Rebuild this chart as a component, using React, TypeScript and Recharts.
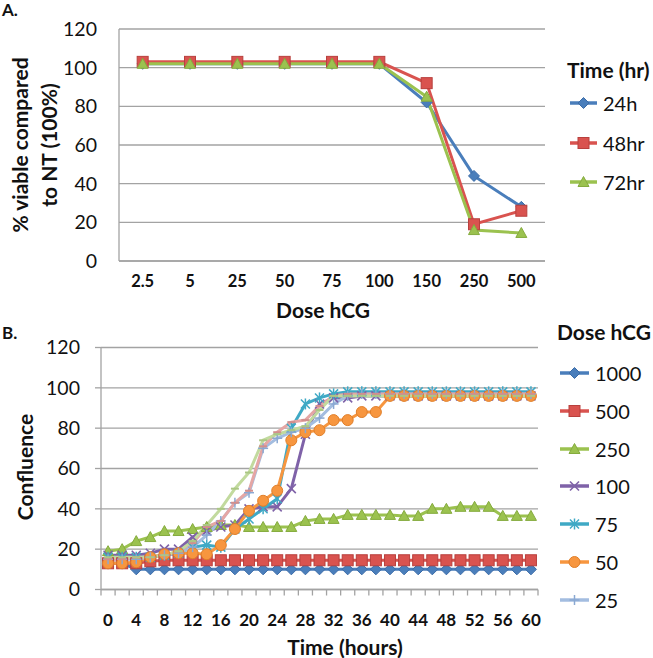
import React from "react";
import { LineChart, Line, XAxis, YAxis, CartesianGrid } from "recharts";

// Panel A: viability by dose
const doses = ["2.5", "5", "25", "50", "75", "100", "150", "250", "500"];
const viable24h = [102, 102, 102, 102, 102, 102, 82, 44, 28];
const viable48h = [103, 103, 103, 103, 103, 103, 92, 19, 26];
const viable72h = [102, 102, 102, 102, 102, 102, 85, 16, 14.5];

// Panel B: confluence over time
const hours = [0, 2, 4, 6, 8, 10, 12, 14, 16, 18, 20, 22, 24, 26, 28, 30, 32, 34, 36, 38, 40, 42, 44, 46, 48, 50, 52, 54, 56, 58, 60];
const conf1000 = [13, 13, 10, 10, 10, 10, 10, 10, 10, 10, 10, 10, 10, 10, 10, 10, 10, 10, 10, 10, 10, 10, 10, 10, 10, 10, 10, 10, 10, 10, 10];
const conf500 = [13, 13, 13, 14, 14.5, 14.5, 14.5, 14.5, 14.5, 14.5, 14.5, 14.5, 14.5, 14.5, 14.5, 14.5, 14.5, 14.5, 14.5, 14.5, 14.5, 14.5, 14.5, 14.5, 14.5, 14.5, 14.5, 14.5, 14.5, 14.5, 14.5];
const conf250 = [19, 20, 24, 26, 29, 29, 30, 31, 32, 32, 31, 31, 31, 31, 34, 35, 35, 37, 37, 37, 37, 36.5, 36.5, 40, 40, 41, 41, 41, 36.5, 36.5, 36.5];
const conf100 = [17, 17, 17, 18, 20, 20, 26, 29, 31, 32, 40, 41, 41, 50, 77, 92, 95, 95, 96, 96, 96, 96, 96, 96, 96, 96, 96, 96, 96, 96, 96];
const conf75 = [16, 16, 16, 16, 17, 18, 21, 22, 21, 30, 35, 40, 45, 80, 92, 95, 97, 98, 98, 98, 98, 98, 98, 98, 98, 98, 98, 98, 98, 98, 98];
const conf50 = [13, 13, 13.5, 16, 17.5, 18, 18, 17.5, 22, 30, 39, 44, 49, 74, 78, 79, 84, 84, 88, 88, 96, 96, 96, 96, 96, 96, 96, 96, 96, 96, 96];
const conf25 = [15, 15, 15, 16, 17, 18, 21, 27, 34, 43, 48, 70, 75, 78, 80, 85, 92, 96, 97, 97, 97, 97, 97, 97, 97, 97, 97, 97, 97, 97, 97];
const conf10 = [15, 15, 16, 16, 17, 19, 23, 31, 34, 43, 49, 71, 78, 83, 84, 91, 96, 97, 97, 97, 97, 97, 97, 97, 97, 97, 97, 97, 97, 97, 97];
const conf5 = [16, 16, 16, 16, 17, 19, 24, 32, 40, 50, 58, 74, 77, 79, 81, 89, 96, 96, 96, 96, 96, 96, 96, 96, 96, 96, 96, 96, 96, 96, 96];

const hourTicks = [0, 4, 8, 12, 16, 20, 24, 28, 32, 36, 40, 44, 48, 52, 56, 60];
const yTicks = [0, 20, 40, 60, 80, 100, 120];

const axisGray = "#A3A3A3";
const font = "Lato, 'Open Sans', sans-serif";

type Kind = "diamond" | "square" | "triangle" | "x" | "star" | "circle" | "plus" | "dash";

interface Series {
  key: string;
  name: string;
  color: string;
  edge: string;
  kind: Kind;
  values: number[];
  legend: boolean;
}

const viableSeries: Series[] = [
  { key: "h24", name: "24h", color: "#4A7EBB", edge: "#3B6CA8", kind: "diamond", values: viable24h, legend: true },
  { key: "h48", name: "48hr", color: "#D9534F", edge: "#B8403D", kind: "square", values: viable48h, legend: true },
  { key: "h72", name: "72hr", color: "#9BC24F", edge: "#85AB3E", kind: "triangle", values: viable72h, legend: true },
];

const confSeries: Series[] = [
  { key: "d1000", name: "1000", color: "#4A7EBB", edge: "#3B6CA8", kind: "diamond", values: conf1000, legend: true },
  { key: "d500", name: "500", color: "#D9534F", edge: "#B8403D", kind: "square", values: conf500, legend: true },
  { key: "d250", name: "250", color: "#9BC24F", edge: "#85AB3E", kind: "triangle", values: conf250, legend: true },
  { key: "d100", name: "100", color: "#7F62A8", edge: "#6A4F93", kind: "x", values: conf100, legend: true },
  { key: "d75", name: "75", color: "#3FA9C5", edge: "#2E93AE", kind: "star", values: conf75, legend: true },
  { key: "d50", name: "50", color: "#F7963F", edge: "#E07F2A", kind: "circle", values: conf50, legend: true },
  { key: "d25", name: "25", color: "#A3BDE0", edge: "#8AA8D2", kind: "plus", values: conf25, legend: true },
  { key: "d10", name: "10", color: "#E5A6A4", edge: "#D28E8C", kind: "dash", values: conf10, legend: false },
  { key: "d5", name: "5", color: "#C2DA9E", edge: "#ABC784", kind: "dash", values: conf5, legend: false },
];

const viableRows = doses.map((d, i) => {
  const row: Record<string, string | number> = { dose: d };
  viableSeries.forEach((s) => (row[s.key] = s.values[i]));
  return row;
});

const confRows = hours.map((h, i) => {
  const row: Record<string, number> = { hour: h };
  confSeries.forEach((s) => (row[s.key] = s.values[i]));
  return row;
});

// tick marks sit between the 2-hour categories, labels every 4 hours
const boundaryTicks = hours.map((h) => h - 1).concat([hours[hours.length - 1] + 1]);
const timeAxisTicks = [...boundaryTicks, ...hourTicks].sort((a, b) => a - b);

const Marker = ({ cx, cy, kind, color, edge }: { cx: number; cy: number; kind: Kind; color: string; edge: string }) => {
  const r = 5.5;
  switch (kind) {
    case "diamond":
      return <polygon points={`${cx},${cy - r} ${cx + r},${cy} ${cx},${cy + r} ${cx - r},${cy}`} fill={color} stroke={edge} strokeWidth={1} />;
    case "square":
      return <rect x={cx - r} y={cy - r} width={2 * r} height={2 * r} fill={color} stroke={edge} strokeWidth={1} />;
    case "triangle":
      return <polygon points={`${cx},${cy - r} ${cx + r},${cy + r - 1} ${cx - r},${cy + r - 1}`} fill={color} stroke={edge} strokeWidth={1} />;
    case "circle":
      return <circle cx={cx} cy={cy} r={r} fill={color} stroke={edge} strokeWidth={1} />;
    case "x":
      return (
        <g stroke={color} strokeWidth={1.6}>
          <line x1={cx - 4.5} y1={cy - 4.5} x2={cx + 4.5} y2={cy + 4.5} />
          <line x1={cx - 4.5} y1={cy + 4.5} x2={cx + 4.5} y2={cy - 4.5} />
        </g>
      );
    case "star":
      return (
        <g stroke={color} strokeWidth={1.5}>
          <line x1={cx - 4.5} y1={cy - 4.5} x2={cx + 4.5} y2={cy + 4.5} />
          <line x1={cx - 4.5} y1={cy + 4.5} x2={cx + 4.5} y2={cy - 4.5} />
          <line x1={cx} y1={cy - 5.5} x2={cx} y2={cy + 5.5} />
        </g>
      );
    case "plus":
      return (
        <g stroke={edge} strokeWidth={1.5}>
          <line x1={cx - 5} y1={cy} x2={cx + 5} y2={cy} />
          <line x1={cx} y1={cy - 5} x2={cx} y2={cy + 5} />
        </g>
      );
    default:
      return <line x1={cx - 4} y1={cy} x2={cx + 4} y2={cy} stroke={edge} strokeWidth={2} />;
  }
};

const TimeTick = (props: any) => {
  const { x, y, payload } = props;
  const axisY = y - 6;
  if (hourTicks.includes(payload.value)) {
    return (
      <text x={x} y={axisY + 36.5} textAnchor="middle" fontSize={17} fontWeight={700} fill="#111" fontFamily={font}>
        {payload.value}
      </text>
    );
  }
  return <line x1={x} x2={x} y1={axisY} y2={axisY + 6} stroke={axisGray} strokeWidth={1.3} />;
};

const LegendBlock = ({ title, series, left, titleY, firstY, step, textLeft }: {
  title: string; series: Series[]; left: number; titleY: number; firstY: number; step: number; textLeft: number;
}) => (
  <>
    <div style={{ position: "absolute", left: left - 3, top: titleY - 15, height: 30, lineHeight: "30px", fontSize: 21, fontWeight: 700, whiteSpace: "nowrap" }}>
      {title}
    </div>
    {series.filter((s) => s.legend).map((s, i) => (
      <div key={s.key} style={{ position: "absolute", left, top: firstY + i * step - 15, height: 30, display: "flex", alignItems: "center" }}>
        <svg width={textLeft - left - 4} height={30} style={{ overflow: "visible" }}>
          <line x1={0} x2={textLeft - left - 6} y1={15} y2={15} stroke={s.color} strokeWidth={3.5} />
          <Marker cx={(textLeft - left - 6) / 2} cy={15} kind={s.kind} color={s.color} edge={s.edge} />
        </svg>
        <span style={{ fontSize: 20, marginLeft: 4, lineHeight: "30px" }}>{s.name}</span>
      </div>
    ))}
  </>
);

const RotatedTitle = ({ text, cx, cy, w, h, size, lineHeight }: { text: string[]; cx: number; cy: number; w: number; h: number; size: number; lineHeight: number }) => (
  <div
    style={{
      position: "absolute", left: cx - w / 2, top: cy - h / 2, width: w, height: h,
      transform: "rotate(-90deg)", display: "flex", flexDirection: "column", alignItems: "center", justifyContent: "center",
      fontSize: size, fontWeight: 700, lineHeight: `${lineHeight}px`, whiteSpace: "nowrap",
    }}
  >
    {text.map((t) => <div key={t}>{t}</div>)}
  </div>
);

export default function App() {
  return (
    <div style={{ position: "absolute", left: 0, top: 0, width: 653, height: 658, background: "#fff", fontFamily: font, color: "#111", overflow: "hidden" }}>
      <div style={{ position: "absolute", left: 2, top: -1, fontSize: 17, fontWeight: 700 }}>A.</div>
      <div style={{ position: "absolute", left: 2, top: 322, fontSize: 17, fontWeight: 700 }}>B.</div>

      <div style={{ position: "absolute", left: 0, top: 0 }}>
        <LineChart width={653} height={300} data={viableRows} margin={{ top: 29, right: 108, bottom: 9, left: 0 }}>
          <CartesianGrid vertical={false} stroke={axisGray} strokeWidth={1.3} />
          <XAxis
            dataKey="dose"
            height={30}
            padding={{ left: 23.67, right: 23.67 }}
            axisLine={{ stroke: axisGray, strokeWidth: 1.3 }}
            tickLine={false}
            tickSize={6}
            tickMargin={8}
            interval={0}
            tick={{ fill: "#111", fontSize: 16.5, fontWeight: 700, fontFamily: font }}
          />
          <YAxis
            width={119}
            domain={[0, 120]}
            ticks={yTicks}
            axisLine={{ stroke: axisGray, strokeWidth: 1.3 }}
            tickLine={false}
            tickSize={6}
            tickMargin={16}
            tick={{ fill: "#111", fontSize: 19.5, fontFamily: font }}
          />
          {viableSeries.map((s) => (
            <Line
              key={s.key}
              dataKey={s.key}
              name={s.name}
              stroke={s.color}
              strokeWidth={3}
              isAnimationActive={false}
              activeDot={false}
              dot={(p: any) => <Marker key={`${s.key}-${p.index}`} cx={p.cx} cy={p.cy} kind={s.kind} color={s.color} edge={s.edge} />}
            />
          ))}
        </LineChart>
      </div>

      <div style={{ position: "absolute", left: 0, top: 320 }}>
        <LineChart width={653} height={338} data={confRows} margin={{ top: 27.5, right: 115, bottom: 38.5, left: 0 }}>
          <CartesianGrid vertical={false} stroke={axisGray} strokeWidth={1.3} />
          <XAxis
            type="number"
            dataKey="hour"
            domain={[-1, 61]}
            ticks={timeAxisTicks}
            interval={0}
            height={30}
            axisLine={{ stroke: axisGray, strokeWidth: 1.3 }}
            tickLine={false}
            tickSize={6}
            tickMargin={0}
            tick={<TimeTick />}
          />
          <YAxis
            width={101}
            domain={[0, 120]}
            ticks={yTicks}
            axisLine={{ stroke: axisGray, strokeWidth: 1.3 }}
            tickLine={{ stroke: axisGray, strokeWidth: 1.3 }}
            tickSize={6}
            tickMargin={15}
            tick={{ fill: "#111", fontSize: 19.5, fontFamily: font }}
          />
          {confSeries.map((s) => (
            <Line
              key={s.key}
              dataKey={s.key}
              name={s.name}
              stroke={s.color}
              strokeWidth={3}
              isAnimationActive={false}
              activeDot={false}
              dot={(p: any) => <Marker key={`${s.key}-${p.index}`} cx={p.cx} cy={p.cy} kind={s.kind} color={s.color} edge={s.edge} />}
            />
          ))}
        </LineChart>
      </div>

      <RotatedTitle text={["% viable compared", "to NT (100%)"]} cx={34} cy={145} w={250} h={64} size={21} lineHeight={29} />
      <RotatedTitle text={["Confluence"]} cx={25} cy={467} w={160} h={30} size={21} lineHeight={28} />
      <div style={{ position: "absolute", left: 223, top: 295, width: 200, textAlign: "center", fontSize: 21, fontWeight: 700, lineHeight: "30px" }}>Dose hCG</div>
      <div style={{ position: "absolute", left: 245, top: 632, width: 200, textAlign: "center", fontSize: 21, fontWeight: 700, lineHeight: "30px" }}>Time (hours)</div>

      <LegendBlock title="Time (hr)" series={viableSeries} left={570} titleY={70} firstY={103} step={39.5} textLeft={603} />
      <LegendBlock title="Dose hCG" series={confSeries} left={560} titleY={332} firstY={372.7} step={37.9} textLeft={595} />
    </div>
  );
}
